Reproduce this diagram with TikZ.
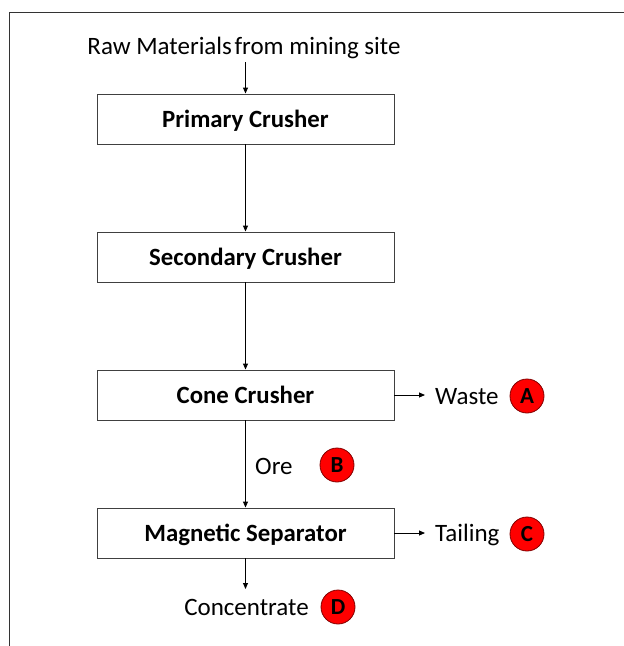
\documentclass[tikz,border=0pt]{standalone}
\usepackage{fontspec}
\setmainfont{Carlito}
\usetikzlibrary{arrows.meta}
\begin{document}
\begin{tikzpicture}[x=1pt,y=-1pt,
  proc/.style={draw=black!75, line width=0.9pt, minimum width=297pt, minimum height=50pt, font=\fontsize{24.8}{28}\selectfont\bfseries, inner sep=0pt, text depth=0pt, text height=17pt},
  lbl/.style={font=\fontsize{25}{28}\selectfont, inner sep=0pt},
  badge/.style={circle, fill=red, draw=red!50!black, line width=0.8pt, minimum size=34pt, inner sep=0pt, font=\fontsize{23}{26}\selectfont\bfseries},
  flow/.style={draw=black, line width=0.9pt, -{Triangle[length=6pt,width=5pt]}}]
\useasboundingbox (0,0) rectangle (624,646);
\draw[line width=1pt, black!80] (9,646) -- (9,12.5) -- (624,12.5);
\node[lbl] (raw) at (244,47.5) {Raw Materials\hspace{-3pt} from mining site};
\node[proc] (p1) at (245.5,119) {Primary Crusher};
\node[proc] (p2) at (245.5,257) {Secondary Crusher};
\node[proc] (p3) at (245.5,395) {Cone Crusher};
\node[proc] (p4) at (245.5,533) {Magnetic Separator};
\coordinate (rawend) at (245.5,62);
\draw[flow] (rawend) -- (p1.north);
\draw[flow] (p1) -- (p2);
\draw[flow] (p2) -- (p3);
\draw[flow] (p3) -- (p4);
\node[lbl, anchor=west] (waste) at (435,397) {Waste};
\node[badge] (A) at (527,396) {A};
\coordinate (wa) at (425,395);
\draw[flow] (p3.east) -- (wa);
\node[lbl, anchor=west] (ore) at (255,466) {Ore};
\node[badge] (B) at (337,465) {B};
\node[lbl, anchor=west] (tail) at (435,535) {Tailing};
\node[badge] (C) at (527,534) {C};
\coordinate (ta) at (425,533);
\draw[flow] (p4.east) -- (ta);
\node[lbl] (conc) at (246.5,607.5) {Concentrate};
\node[badge] (D) at (338,607) {D};
\coordinate (ca) at (245.5,589);
\draw[flow] (p4.south) -- (ca);
\end{tikzpicture}
\end{document}
